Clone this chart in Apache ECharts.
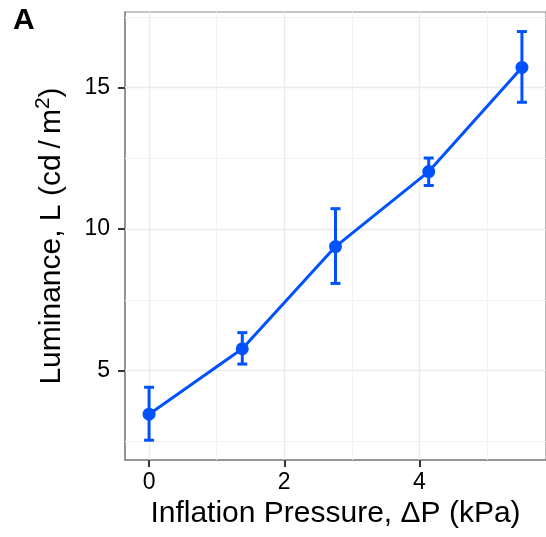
<!DOCTYPE html>
<html>
<head>
<meta charset="utf-8">
<script src="https://cdn.jsdelivr.net/npm/echarts@6/dist/echarts.min.js"></script>
<style>
  html, body { margin: 0; padding: 0; background: #fff; }
  #chart { width: 546px; height: 537px; }
</style>
</head>
<body>
<div id="chart"></div>
<script>
// inflation pressure (kPa) and measured luminance with error range
const pressure = [0, 1.379, 2.758, 4.137, 5.516]
const luminance = [3.46, 5.77, 9.38, 12.03, 15.71]
const errLow = [2.54, 5.23, 8.08, 11.54, 14.48]
const errHigh = [4.41, 6.34, 10.72, 12.51, 16.98]

const xTicks = [0, 2, 4]
const yTicks = [5, 10, 15]
const xMinor = [1, 3, 5]
const yMinor = [2.5, 7.5, 12.5, 17.5]

const BLUE = '#0052ff'
const FONT = 'Liberation Sans, Arial, sans-serif'

const chart = echarts.init(document.getElementById('chart'), null, { renderer: 'canvas' })

const minorStyle = { color: '#f3f3f3', width: 1, type: 'solid' }
const majorStyle = { color: '#ebebeb', width: 1.3, type: 'solid' }
const gridLines = [
  ...xMinor.map(v => ({ xAxis: v, lineStyle: minorStyle })),
  ...yMinor.map(v => ({ yAxis: v, lineStyle: minorStyle })),
  ...xTicks.map(v => ({ xAxis: v, lineStyle: majorStyle })),
  ...yTicks.map(v => ({ yAxis: v, lineStyle: majorStyle }))
]

chart.setOption({
  animation: false,
  backgroundColor: '#fff',
  title: {
    text: 'A',
    left: 13,
    top: 6,
    padding: 0,
    textStyle: { fontSize: 30, fontWeight: 'bold', color: '#000', fontFamily: FONT }
  },
  grid: {
    left: 125, top: 12, right: -6, bottom: 77,
    show: true, borderColor: '#888', borderWidth: 1.2, backgroundColor: '#fff'
  },
  xAxis: {
    type: 'value',
    min: -0.356,
    max: 5.872,
    name: 'Inflation Pressure, ΔP (kPa)',
    nameLocation: 'middle',
    nameGap: 36,
    nameTextStyle: { fontSize: 30, color: '#000', fontFamily: FONT },
    axisLine: { show: true, onZero: false, lineStyle: { color: '#888', width: 1.5 } },
    axisTick: { show: true, customValues: xTicks, length: 7, lineStyle: { color: '#333', width: 2 } },
    axisLabel: { customValues: xTicks, margin: 11, fontSize: 23, color: '#000', fontFamily: FONT },
    splitLine: { show: false }
  },
  yAxis: {
    type: 'value',
    min: 1.84,
    max: 17.67,
    name: '{t|Luminance, L (cd\u2009/\u2009m}{s|2}{t|)}',
    nameLocation: 'middle',
    nameGap: 54,
    nameTextStyle: {
      color: '#000',
      fontFamily: FONT,
      rich: {
        t: { fontSize: 30, lineHeight: 38, color: '#000', fontFamily: FONT },
        s: { fontSize: 21, color: '#000', fontFamily: FONT, verticalAlign: 'top' }
      }
    },
    axisLine: { show: true, onZero: false, lineStyle: { color: '#888', width: 1.5 } },
    axisTick: { show: true, customValues: yTicks, length: 7, lineStyle: { color: '#333', width: 2 } },
    axisLabel: { customValues: yTicks, margin: 15, fontSize: 23, color: '#000', fontFamily: FONT },
    splitLine: { show: false }
  },
  series: [
    {
      type: 'line',
      data: [],
      silent: true,
      markLine: {
        silent: true,
        z: 1,
        symbol: ['none', 'none'],
        label: { show: false },
        emphasis: { disabled: true },
        data: gridLines
      }
    },
    {
      type: 'custom',
      z: 3,
      data: pressure.map((x, i) => [x, errLow[i], errHigh[i]]),
      encode: { x: 0, y: [1, 2] },
      renderItem: (params, api) => {
        const lo = api.coord([api.value(0), api.value(1)])
        const hi = api.coord([api.value(0), api.value(2)])
        const half = 5
        const style = { stroke: BLUE, lineWidth: 3 }
        return {
          type: 'group',
          children: [
            { type: 'line', shape: { x1: lo[0], y1: lo[1], x2: hi[0], y2: hi[1] }, style },
            { type: 'line', shape: { x1: lo[0] - half, y1: lo[1], x2: lo[0] + half, y2: lo[1] }, style },
            { type: 'line', shape: { x1: hi[0] - half, y1: hi[1], x2: hi[0] + half, y2: hi[1] }, style }
          ]
        }
      }
    },
    {
      type: 'line',
      z: 4,
      data: pressure.map((x, i) => [x, luminance[i]]),
      symbol: 'circle',
      symbolSize: 13,
      itemStyle: { color: BLUE },
      lineStyle: { color: BLUE, width: 3 }
    }
  ]
})
</script>
</body>
</html>
